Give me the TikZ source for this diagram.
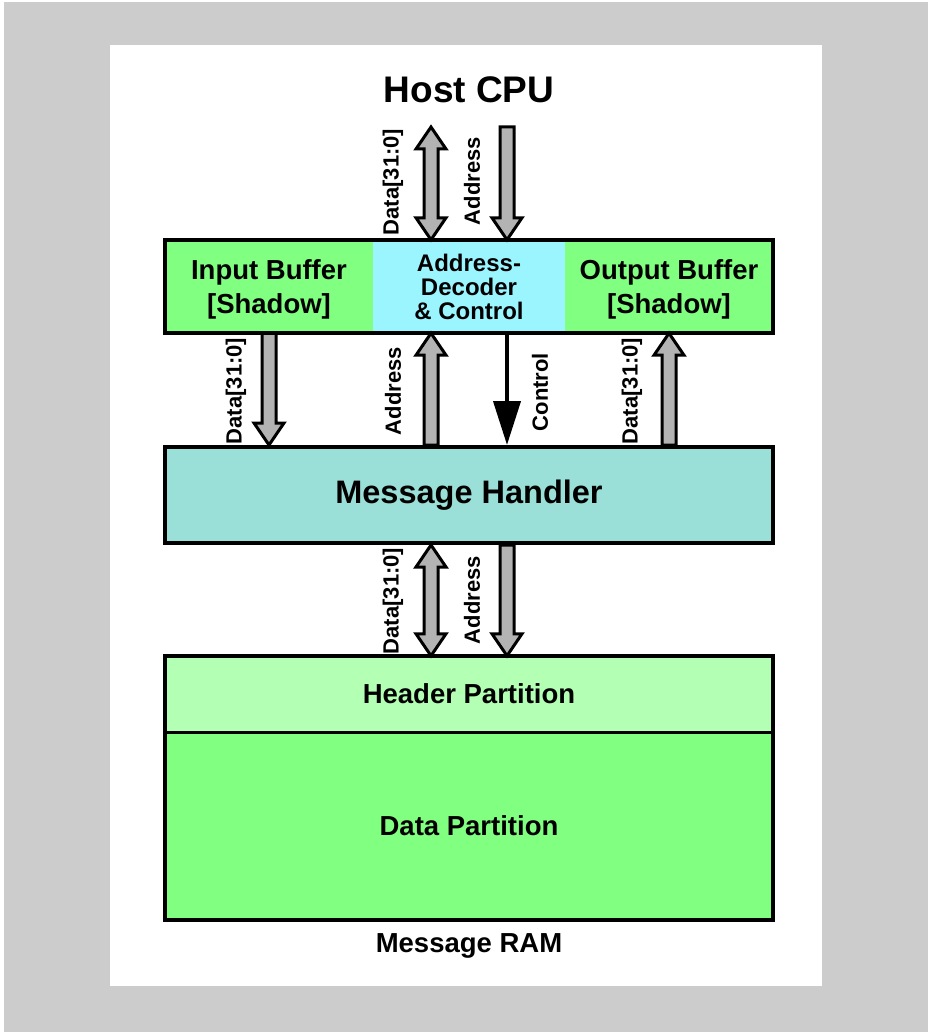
\documentclass[tikz,border=0pt]{standalone}
\usepackage{fontspec}
\setmainfont{Liberation Sans}
\usetikzlibrary{calc, arrows.meta}

\definecolor{pagegray}{RGB}{204,204,204}
\definecolor{bufgreen}{RGB}{128,255,128}
\definecolor{hdrgreen}{RGB}{179,255,179}
\definecolor{deccyan}{RGB}{155,245,255}
\definecolor{mhteal}{RGB}{155,224,216}
\definecolor{busgray}{RGB}{179,179,179}

\tikzset{
  frame/.style={draw=black, line width=4pt, inner sep=0pt},
  section/.style={inner sep=0pt, align=center, font=\bfseries\fontsize{27.5}{34}\selectfont},
  sig/.style={rotate=90, inner sep=0pt, font=\bfseries\fontsize{22}{25}\selectfont},
  % wide bus arrow, head at the target
  bus/.style={draw=black, fill=busgray, line width=3pt, to path={
    let \p1=(\tikztostart), \p2=(\tikztotarget), \n1={sign(\y2-\y1)} in
      (\x1-7pt,\y1) -- (\x1-7pt,{\y2-\n1*22pt}) -- (\x1-15pt,{\y2-\n1*22pt}) -- (\x1,\y2)
      -- (\x1+15pt,{\y2-\n1*22pt}) -- (\x1+7pt,{\y2-\n1*22pt}) -- (\x1+7pt,\y1) -- cycle}},
  % bidirectional bus arrow
  dbus/.style={draw=black, fill=busgray, line width=3pt, to path={
    let \p1=(\tikztostart), \p2=(\tikztotarget), \n1={sign(\y2-\y1)} in
      (\x1,\y1) -- (\x1+15pt,{\y1+\n1*22pt}) -- (\x1+7pt,{\y1+\n1*22pt})
      -- (\x1+7pt,{\y2-\n1*22pt}) -- (\x1+15pt,{\y2-\n1*22pt}) -- (\x1,\y2)
      -- (\x1-15pt,{\y2-\n1*22pt}) -- (\x1-7pt,{\y2-\n1*22pt})
      -- (\x1-7pt,{\y1+\n1*22pt}) -- (\x1-15pt,{\y1+\n1*22pt}) -- cycle}},
  ctrl/.style={draw=black, line width=4pt, -{Triangle[length=44pt, width=27pt]}}
}

\begin{document}
\begin{tikzpicture}[x=1pt, y=-1pt]
  % page and panel
  \useasboundingbox (0,0) rectangle (928,1032);
  \fill[white] (0,0) rectangle (928,1032);
  \fill[pagegray] (4,2) rectangle (928,1032);
  \fill[white] (110,45) rectangle (822,986);

  \node[font=\bfseries\fontsize{37}{40}\selectfont] (cpu) at (469,90) {Host CPU};

  % host interface
  \node[section, fill=bufgreen, minimum width=208pt, minimum height=93pt, text depth=0pt] (inbuf) at (269,286.5) {Input Buffer\\{[Shadow]}};
  \node[section, fill=deccyan, minimum width=192pt, minimum height=93pt, font=\bfseries\fontsize{24}{24}\selectfont] (decoder) at (469,286.5) {Address-\\Decoder\\\& Control};
  \node[section, fill=bufgreen, minimum width=208pt, minimum height=93pt, text depth=0pt] (outbuf) at (669,286.5) {Output Buffer\\{[Shadow]}};

  \node[frame, fill=mhteal, minimum width=608pt, minimum height=96pt, font=\bfseries\fontsize{32.5}{38}\selectfont] (handler) at (469,495) {Message Handler};

  % message RAM
  \node[section, fill=hdrgreen, minimum width=608pt, minimum height=76pt] (header) at (469,694) {Header Partition};
  \node[section, fill=bufgreen, minimum width=608pt, minimum height=188pt] (datapart) at (469,826) {Data Partition};
  \node[section] (ramlabel) at (469,946) {Message RAM};

  % buses
  \coordinate (laneD) at (431,127);
  \coordinate (laneA) at (507,127);
  \draw[dbus] (laneD) to (laneD |- inbuf.north);
  \draw[bus] (laneA) to (laneA |- inbuf.north);
  \draw[bus] (inbuf.south) to (inbuf.south |- handler.north);
  \draw[bus] (laneD |- handler.north) to (laneD |- inbuf.south);
  \draw[ctrl] (laneA |- inbuf.south) -- (laneA |- handler.north);
  \draw[bus] (outbuf.south |- handler.north) to (outbuf.south);
  \draw[dbus] (laneD |- handler.south) to (laneD |- header.north);
  \draw[bus] (laneA |- handler.south) to (laneA |- header.north);

  % frames
  \node[frame, minimum width=608pt, minimum height=93pt] (hostif) at (469,286.5) {};
  \node[frame, minimum width=608pt, minimum height=264pt] (ram) at (469,788) {};
  \draw[line width=3pt] (header.south west) -- (header.south east);

  % signal labels
  \node[sig] (lblcpud) at (393,182) {Data[31:0]};
  \node[sig] (lblcpua) at (472,181) {Address};
  \node[sig] (lblind) at (236,391) {Data[31:0]};
  \node[sig] (lblmha) at (393,391) {Address};
  \node[sig] (lblctl) at (540,392) {Control};
  \node[sig] (lbloutd) at (632,391) {Data[31:0]};
  \node[sig] (lblramd) at (393,601) {Data[31:0]};
  \node[sig] (lblrama) at (472,600) {Address};
\end{tikzpicture}
\end{document}
